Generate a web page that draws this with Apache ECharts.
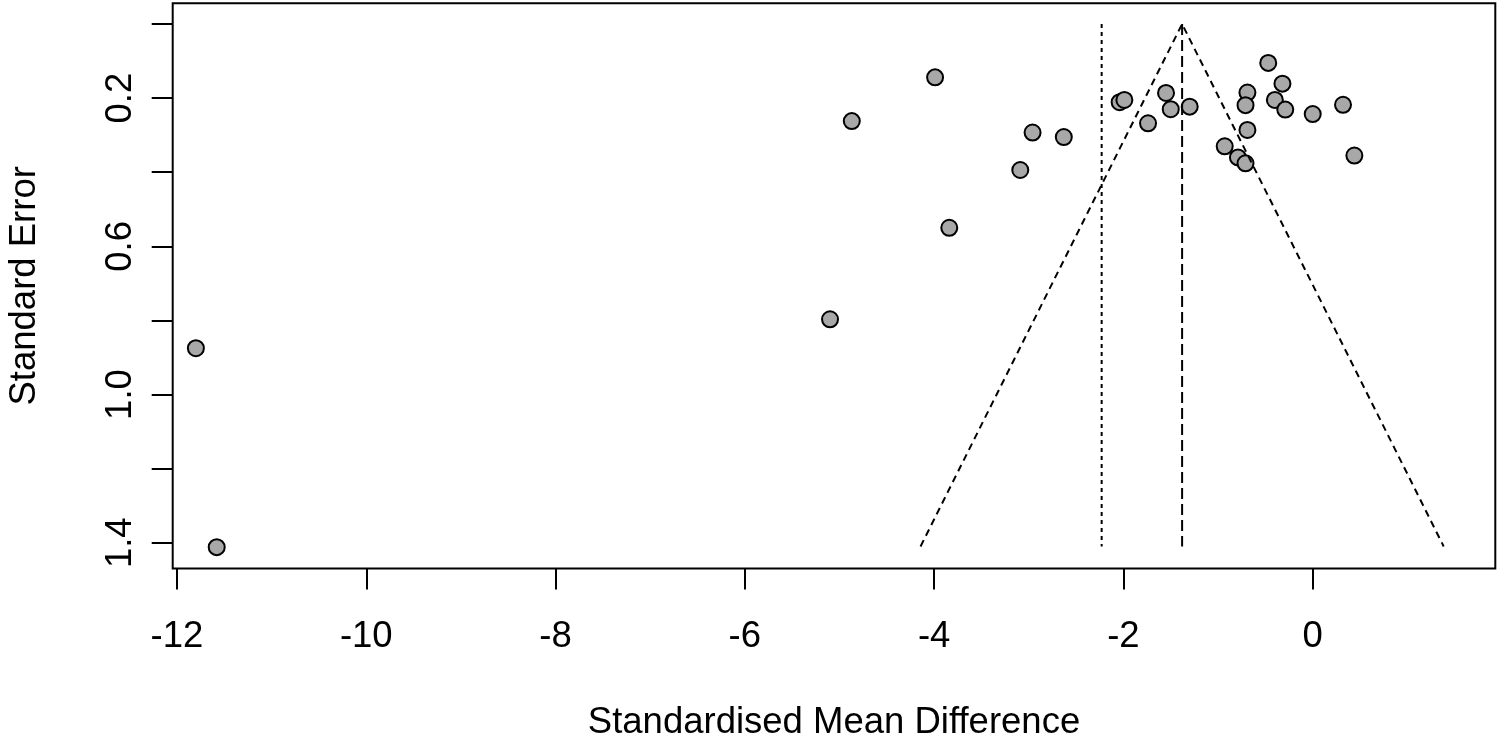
<!DOCTYPE html>
<html>
<head>
<meta charset="utf-8">
<script src="https://cdn.jsdelivr.net/npm/echarts@6/dist/echarts.min.js"></script>
<style>
html,body{margin:0;padding:0;background:#fff;}
#chart{width:1499px;height:742px;}
</style>
</head>
<body>
<div id="chart"></div>
<script>
// Study effects (standardised mean difference) and their standard errors
const smd = [-11.80, -11.58, -4.87, -3.99, -3.84, -5.10, -3.09, -2.96, -2.63, -2.04,
             -1.99, -1.74, -1.55, -1.50, -1.30, -0.93, -0.79, -0.71, -0.69, -0.71,
             -0.69, -0.47, -0.32, -0.40, -0.29, 0.00, 0.32, 0.44];
const se  = [0.875, 1.412, 0.262, 0.144, 0.550, 0.797, 0.394, 0.293, 0.305, 0.211,
             0.205, 0.268, 0.186, 0.230, 0.223, 0.330, 0.360, 0.376, 0.185, 0.219,
             0.286, 0.105, 0.161, 0.205, 0.231, 0.243, 0.218, 0.355];
// Pooled estimates
const fixedEstimate = -1.38;   // dashed line / funnel centre
const randomEstimate = -2.23;  // dotted line
const seMax = 1.41;
const zCrit = 1.96;
// Axis tick values
const xTicks = [-12, -10, -8, -6, -4, -2, 0];
const yTicks = [0, 0.2, 0.4, 0.6, 0.8, 1.0, 1.2, 1.4];
const yLabels = [0.2, 0.6, 1.0, 1.4];

const points = smd.map((v, i) => [v, se[i]]);
const funnel = [
  [fixedEstimate - zCrit * seMax, seMax],
  [fixedEstimate, 0],
  [fixedEstimate + zCrit * seMax, seMax]
];

const FONT = '"Liberation Sans", Arial, sans-serif';
const FS = 36.5;
const chart = echarts.init(document.getElementById('chart'), null, {renderer: 'canvas'});
chart.setOption({
  animation: false,
  backgroundColor: '#ffffff',
  grid: {
    left: 172.7, right: 3.7, top: 3.3, bottom: 173.6,
    outerBoundsMode: 'none',
    containLabel: false,
    show: true, borderColor: '#000', borderWidth: 2, backgroundColor: 'transparent'
  },
  xAxis: {
    type: 'value',
    position: 'bottom',
    min: -12.045, max: 1.929,
    name: 'Standardised Mean Difference',
    nameLocation: 'middle',
    nameGap: 136,
    nameTextStyle: {fontFamily: FONT, fontSize: FS, color: '#000'},
    axisLine: {show: false, onZero: false},
    splitLine: {show: false},
    axisTick: {show: true, inside: false, length: 21, customValues: xTicks, lineStyle: {color: '#000', width: 2}},
    axisLabel: {
      customValues: xTicks, margin: 50,
      fontFamily: FONT, fontSize: FS, color: '#000',
      formatter: v => String(Math.round(v))
    }
  },
  yAxis: {
    type: 'value',
    position: 'left',
    inverse: true,
    min: -0.0559, max: 1.4693,
    name: 'Standard Error',
    nameLocation: 'middle',
    nameGap: 129,
    nameTextStyle: {fontFamily: FONT, fontSize: FS, color: '#000'},
    axisLine: {show: false, onZero: false},
    splitLine: {show: false},
    axisTick: {show: true, inside: false, length: 21, customValues: yTicks, lineStyle: {color: '#000', width: 2}},
    axisLabel: {
      customValues: yLabels, margin: 52, rotate: 90,
      align: 'center', verticalAlign: 'middle',
      fontFamily: FONT, fontSize: FS, color: '#000',
      formatter: v => Number(v).toFixed(1)
    }
  },
  series: [
    {
      type: 'scatter',
      data: points,
      symbol: 'circle',
      symbolSize: 16,
      itemStyle: {color: '#A8A8A8', borderColor: '#000', borderWidth: 2, opacity: 1},
      z: 2
    },
    {
      type: 'line',
      data: funnel,
      symbol: 'none',
      lineStyle: {color: '#000', width: 2, type: [7, 5]},
      z: 3
    },
    {
      type: 'line',
      data: [[fixedEstimate, 0], [fixedEstimate, seMax]],
      symbol: 'none',
      lineStyle: {color: '#000', width: 2, type: [11, 5]},
      z: 3
    },
    {
      type: 'line',
      data: [[randomEstimate, 0], [randomEstimate, seMax]],
      symbol: 'none',
      lineStyle: {color: '#000', width: 2, type: [4, 4]},
      z: 3
    }
  ]
});
</script>
</body>
</html>
